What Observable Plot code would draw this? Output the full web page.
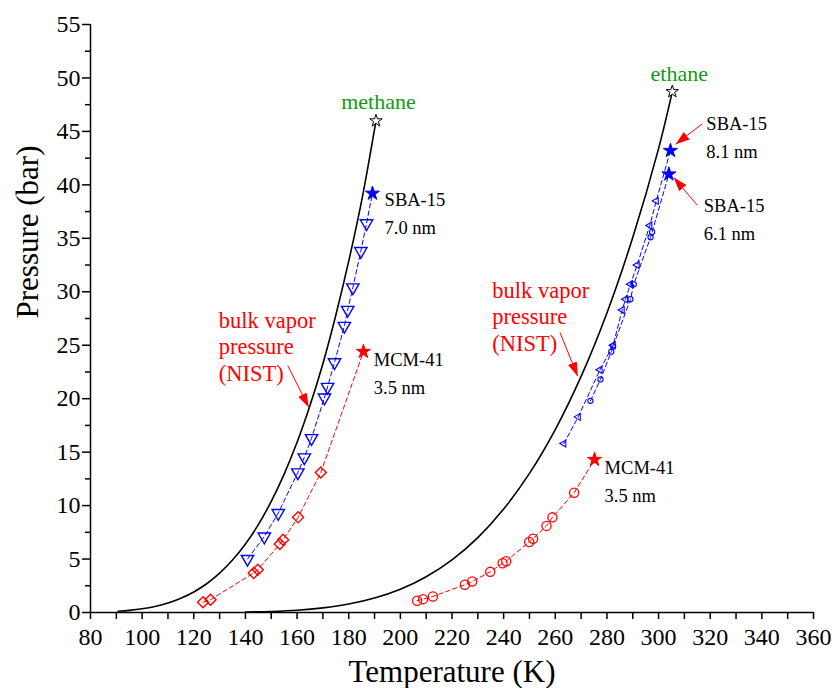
<!DOCTYPE html>
<html><head><meta charset="utf-8">
<script src="https://cdn.jsdelivr.net/npm/d3@7"></script>
<script src="https://cdn.jsdelivr.net/npm/@observablehq/plot@0.6"></script>
<style>body{margin:0;background:#fff}</style>
</head><body><div id="chart"></div>
<script>
// Bulk vapor pressure (NIST), T in K, P in bar
const methaneBulkT = [90.69, 95, 100, 105, 110, 115, 120, 125, 130, 135, 140, 145, 150, 155, 160, 165, 170, 175, 180, 185, 190.56];
const methaneBulkP = [0.117, 0.198, 0.344, 0.566, 0.882, 1.33, 1.92, 2.69, 3.68, 4.91, 6.41, 8.22, 10.40, 12.95, 15.92, 19.36, 23.27, 27.80, 32.86, 38.5, 45.99];
const ethaneBulkT = [140, 150, 160, 170, 180, 190, 200, 210, 220, 230, 240, 250, 260, 270, 280, 290, 300, 305.32];
const ethaneBulkP = [0.038, 0.097, 0.21, 0.43, 0.79, 1.35, 2.17, 3.34, 4.92, 7.00, 9.67, 13.01, 17.11, 22.08, 28.02, 35.07, 43.39, 48.72];
const criticalT = [190.56, 305.32];
const criticalP = [45.99, 48.72];

// Methane in SBA-15 (7.0 nm)
const mSBAT = [140.8, 147.3, 152.7, 160.3, 162.8, 165.6, 170.6, 171.8, 174.5, 178.3, 179.6, 181.6, 184.7, 186.9];
const mSBAP = [5.0, 7.1, 9.3, 13.1, 14.5, 16.3, 20.1, 21.1, 23.4, 26.8, 28.3, 30.4, 33.8, 36.4];
const mSBACapT = [189.2], mSBACapP = [39.2];
// Methane in MCM-41 (3.5 nm)
const mMCMT = [123.6, 126.5, 143.2, 144.8, 153.3, 154.6, 160.4, 169.2];
const mMCMP = [0.96, 1.2, 3.7, 4.0, 6.4, 6.8, 8.9, 13.1];
const mMCMCapT = [185.7], mMCMCapP = [24.4];
// Ethane in MCM-41 (3.5 nm)
const eMCMT = [206.5, 208.8, 212.6, 225.0, 227.8, 234.8, 239.6, 241.0, 249.9, 251.4, 256.6, 258.9, 267.3];
const eMCMP = [1.1, 1.25, 1.5, 2.6, 2.9, 3.8, 4.6, 4.8, 6.6, 6.9, 8.1, 8.9, 11.2];
const eMCMCapT = [275.2], eMCMCapP = [14.3];
// Ethane in SBA-15 (8.1 nm)
const eSBA8T = [263.3, 268.9, 277.3, 282.4, 285.9, 287.2, 289.1, 291.7, 296.6, 299.1];
const eSBA8P = [15.8, 18.3, 22.7, 25.0, 28.3, 29.3, 30.7, 32.5, 36.2, 38.5];
const eSBA8CapT = [304.6], eSBA8CapP = [43.2];
// Ethane in SBA-15 (6.1 nm)
const eSBA6T = [273.6, 277.5, 281.7, 282.4, 289.1, 290.4, 296.9, 297.5];
const eSBA6P = [19.8, 21.8, 24.4, 24.9, 29.3, 30.7, 35.1, 35.6];
const eSBA6CapT = [304.0], eSBA6CapP = [41.0];

// Ticks
const xTicks = [80, 100, 120, 140, 160, 180, 200, 220, 240, 260, 280, 300, 320, 340, 360];
const xMinorTicks = [90, 110, 130, 150, 170, 190, 210, 230, 250, 270, 290, 310, 330, 350];
const yTicks = [0, 5, 10, 15, 20, 25, 30, 35, 40, 45, 50, 55];
const yMinorTicks = [2.5, 7.5, 12.5, 17.5, 22.5, 27.5, 32.5, 37.5, 42.5, 47.5, 52.5];

// Annotations
const blackLabels = ["SBA-15\n7.0 nm", "MCM-41\n3.5 nm", "SBA-15\n8.1 nm", "SBA-15\n6.1 nm", "MCM-41\n3.5 nm"];
const blackLabelT = [193.9, 189.7, 318.5, 317.5, 279.1];
const blackLabelP = [39.86, 24.86, 46.94, 39.3, 14.76];
const redLabels = ["bulk vapor\npressure\n(NIST)", "bulk vapor\npressure\n(NIST)"];
const redLabelT = [129.7, 235.6];
const redLabelP = [28.4, 31.2];
const greenLabels = ["methane", "ethane"];
const greenLabelT = [191.5, 308.0];
const greenLabelP = [48.6, 51.15];
const arrowT1 = [156.4, 261.8, 316.9, 314.97];
const arrowP1 = [23.1, 26.2, 45.7, 38.1];
const arrowT2 = [164.5, 268.7, 306.6, 305.9];
const arrowP2 = [19.2, 22.1, 43.8, 40.7];

const FONT = "'Liberation Serif', 'Times New Roman', serif";
const blue = "#0000ff", red = "#ff0000", green = "#129a12";
const pts = (T, P) => T.map((t, i) => ({T: t, P: P[i]}));
const labels = (txt, T, P) => txt.map((s, i) => ({s, T: T[i], P: P[i]}));

function filledArrow(color) {
  const m = d3.create("svg:marker")
    .attr("viewBox", "-14 -4.8 14 9.6")
    .attr("markerWidth", 14).attr("markerHeight", 9.6)
    .attr("markerUnits", "userSpaceOnUse")
    .attr("orient", "auto")
    .attr("refX", 0).attr("refY", 0);
  m.append("path").attr("d", "M-14,-4.8L0,0L-14,4.8Z").attr("fill", color).attr("stroke", "none");
  return m.node();
}

const dashed = (data, color) => Plot.line(data, {x: "T", y: "P", stroke: color, strokeWidth: 1, strokeDasharray: "4.5,3"});
const star = (data, fill, stroke, r) => Plot.dot(data, {x: "T", y: "P", symbol: "star", r, fill, stroke, strokeWidth: 1});

const plot = Plot.plot({
  width: 836, height: 688,
  marginLeft: 90, marginRight: 23, marginTop: 24, marginBottom: 76,
  x: {domain: [80, 360]},
  y: {domain: [0, 55]},
  style: `font-family: ${FONT}; font-size: 24px; background: white; color: black;`,
  marks: [
    // axes
    Plot.axisX(xMinorTicks, {tickSize: 7, strokeWidth: 1.5, tickFormat: () => "", label: null}),
    Plot.axisX(xTicks, {tickSize: 7, strokeWidth: 1.5, tickPadding: 8, fontSize: 24, fontFamily: FONT, label: null}),
    Plot.axisY(yMinorTicks, {tickSize: 5, strokeWidth: 1.5, tickFormat: () => "", label: null}),
    Plot.axisY(yTicks, {tickSize: 8, strokeWidth: 1.5, tickPadding: 2, fontSize: 24, fontFamily: FONT, label: null}),
    Plot.ruleY([0], {stroke: "black", strokeWidth: 1.5}),
    Plot.ruleX([80], {stroke: "black", strokeWidth: 1.5}),
    Plot.text(["Temperature (K)"], {frameAnchor: "bottom", lineAnchor: "top", dy: 47, fontSize: 31, fontFamily: FONT}),
    Plot.text(["Pressure (bar)"], {frameAnchor: "left", rotate: -90, dx: -62, fontSize: 31, fontFamily: FONT}),
    // bulk curves
    Plot.line(pts(methaneBulkT, methaneBulkP), {x: "T", y: "P", curve: "catmull-rom", stroke: "black", strokeWidth: 1.6}),
    Plot.line(pts(ethaneBulkT, ethaneBulkP), {x: "T", y: "P", curve: "catmull-rom", stroke: "black", strokeWidth: 1.6}),
    // dashed connecting lines
    dashed(pts(mSBAT.concat(mSBACapT), mSBAP.concat(mSBACapP)), blue),
    dashed(pts(mMCMT.concat(mMCMCapT), mMCMP.concat(mMCMCapP)), red),
    dashed(pts(eMCMT.concat(eMCMCapT), eMCMP.concat(eMCMCapP)), red),
    dashed(pts(eSBA8T.concat(eSBA8CapT), eSBA8P.concat(eSBA8CapP)), blue),
    dashed(pts(eSBA6T.concat(eSBA6CapT), eSBA6P.concat(eSBA6CapP)), blue),
    // markers
    Plot.dot(pts(mSBAT, mSBAP), {x: "T", y: "P", symbol: "triangle", rotate: 180, r: 4.6, stroke: blue, strokeWidth: 1.4, fill: "none"}),
    Plot.dot(pts(mMCMT, mMCMP), {x: "T", y: "P", symbol: "square", rotate: 45, r: 4.4, stroke: red, strokeWidth: 1.4, fill: "none"}),
    Plot.dot(pts(eMCMT, eMCMP), {x: "T", y: "P", symbol: "circle", r: 4.6, stroke: red, strokeWidth: 1.3, fill: "none"}),
    Plot.dot(pts(eSBA8T, eSBA8P), {x: "T", y: "P", symbol: "triangle", rotate: -90, r: 2.6, stroke: blue, strokeWidth: 1.1, fill: "none"}),
    Plot.dot(pts(eSBA6T, eSBA6P), {x: "T", y: "P", symbol: "circle", r: 2.6, stroke: blue, strokeWidth: 1.1, fill: "none"}),
    // capillary critical points and bulk critical points
    star(pts(mSBACapT, mSBACapP), blue, blue, 4.4),
    star(pts(eSBA8CapT, eSBA8CapP), blue, blue, 4.4),
    star(pts(eSBA6CapT, eSBA6CapP), blue, blue, 4.4),
    star(pts(mMCMCapT, mMCMCapP), red, red, 4.4),
    star(pts(eMCMCapT, eMCMCapP), red, red, 4.4),
    star(pts(criticalT, criticalP), "white", "black", 3.9),
    // annotations
    Plot.link(pts(arrowT1, arrowP1).map((d, i) => ({...d, T2: arrowT2[i], P2: arrowP2[i]})),
      {x1: "T", y1: "P", x2: "T2", y2: "P2", stroke: red, strokeWidth: 1, markerEnd: filledArrow}),
    Plot.text(labels(blackLabels, blackLabelT, blackLabelP), {x: "T", y: "P", text: "s", textAnchor: "start", lineAnchor: "top", lineHeight: 1.5, fontSize: 18.5, fontFamily: FONT, fill: "black"}),
    Plot.text(labels(redLabels, redLabelT, redLabelP), {x: "T", y: "P", text: "s", textAnchor: "start", lineAnchor: "top", lineHeight: 1.18, fontSize: 22.5, fontFamily: FONT, fill: red}),
    Plot.text(labels(greenLabels, greenLabelT, greenLabelP), {x: "T", y: "P", text: "s", textAnchor: "middle", lineAnchor: "top", fontSize: 22, fontFamily: FONT, fill: green})
  ]
});
document.getElementById("chart").appendChild(plot);
</script>
</body></html>
